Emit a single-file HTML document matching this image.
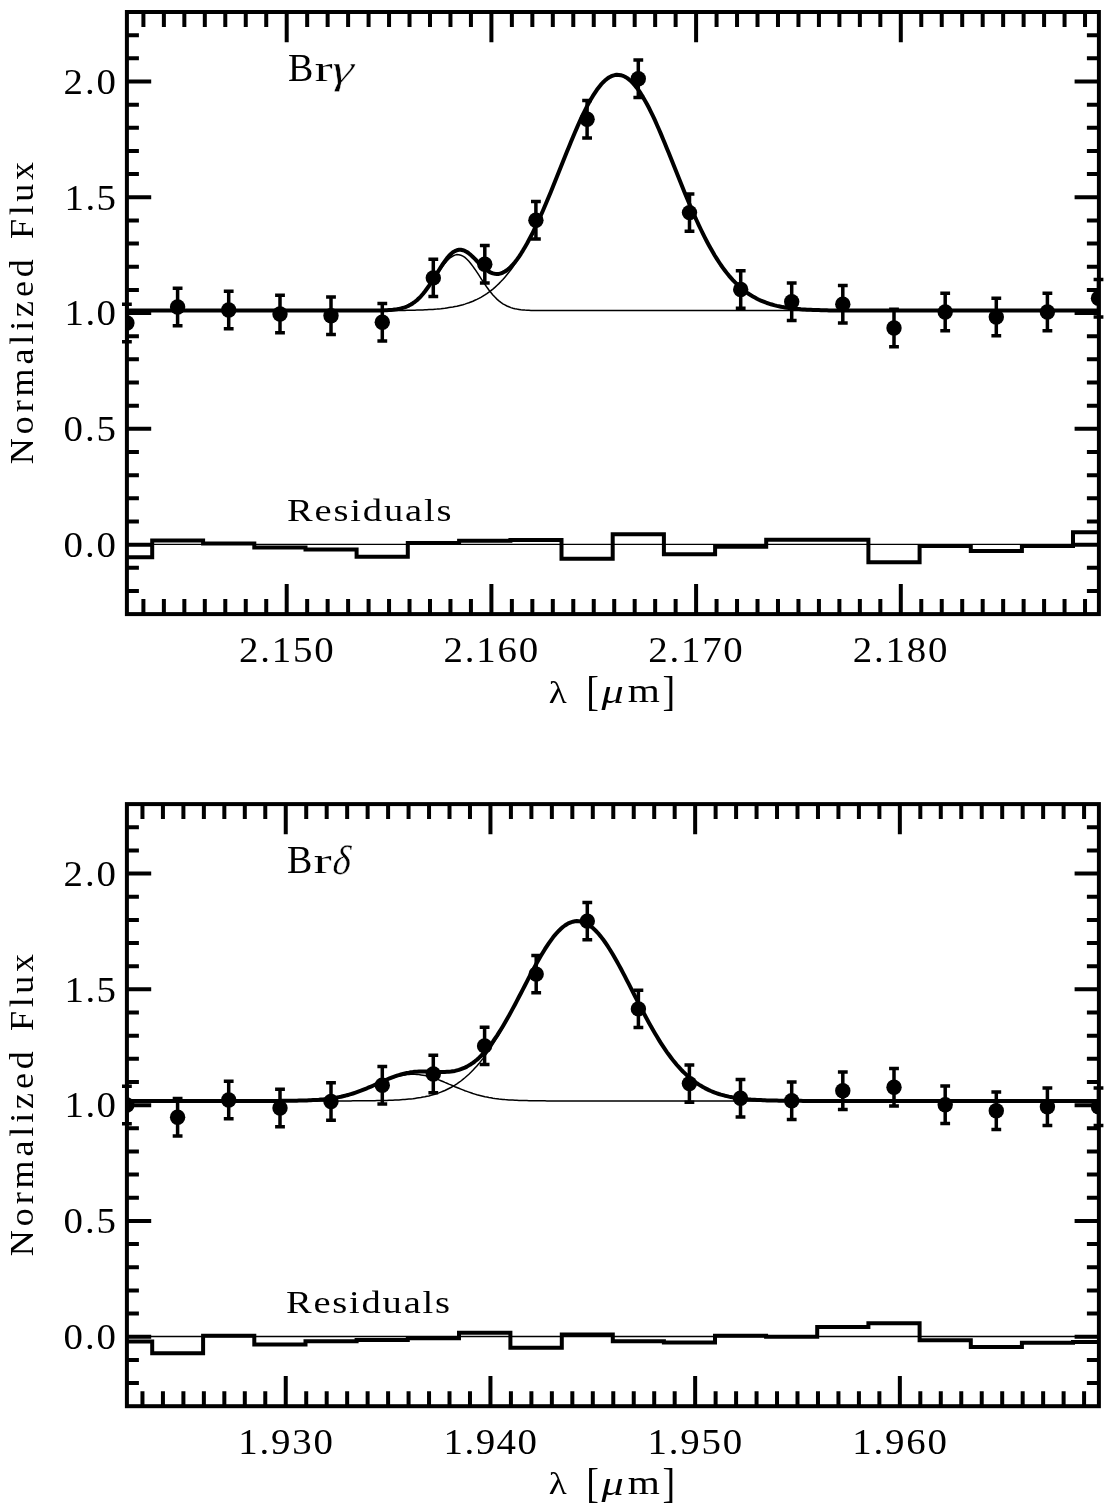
<!DOCTYPE html>
<html lang="en"><head><meta charset="utf-8"><title>Br gamma / Br delta line fits</title>
<style>html,body{margin:0;padding:0;background:#fff}svg{display:block}text{font-family:"Liberation Serif",serif;fill:#000}</style></head><body>
<svg width="1110" height="1511" viewBox="0 0 1110 1511">
<rect width="1110" height="1511" fill="#fff"/>
<defs><clipPath id="clip"><rect x="126.90" y="12.00" width="972.00" height="602.10"/></clipPath></defs>
<g transform="translate(0,0)">
<path d="M143.41,614.10 v-15.00 M143.41,12.00 v15.00 M163.88,614.10 v-15.00 M163.88,12.00 v15.00 M184.35,614.10 v-15.00 M184.35,12.00 v15.00 M204.82,614.10 v-15.00 M204.82,12.00 v15.00 M225.29,614.10 v-15.00 M225.29,12.00 v15.00 M245.76,614.10 v-15.00 M245.76,12.00 v15.00 M266.23,614.10 v-15.00 M266.23,12.00 v15.00 M286.70,614.10 v-30.20 M286.70,12.00 v30.20 M307.17,614.10 v-15.00 M307.17,12.00 v15.00 M327.64,614.10 v-15.00 M327.64,12.00 v15.00 M348.11,614.10 v-15.00 M348.11,12.00 v15.00 M368.58,614.10 v-15.00 M368.58,12.00 v15.00 M389.05,614.10 v-15.00 M389.05,12.00 v15.00 M409.52,614.10 v-15.00 M409.52,12.00 v15.00 M429.99,614.10 v-15.00 M429.99,12.00 v15.00 M450.46,614.10 v-15.00 M450.46,12.00 v15.00 M470.93,614.10 v-15.00 M470.93,12.00 v15.00 M491.40,614.10 v-30.20 M491.40,12.00 v30.20 M511.87,614.10 v-15.00 M511.87,12.00 v15.00 M532.34,614.10 v-15.00 M532.34,12.00 v15.00 M552.81,614.10 v-15.00 M552.81,12.00 v15.00 M573.28,614.10 v-15.00 M573.28,12.00 v15.00 M593.75,614.10 v-15.00 M593.75,12.00 v15.00 M614.22,614.10 v-15.00 M614.22,12.00 v15.00 M634.69,614.10 v-15.00 M634.69,12.00 v15.00 M655.16,614.10 v-15.00 M655.16,12.00 v15.00 M675.63,614.10 v-15.00 M675.63,12.00 v15.00 M696.10,614.10 v-30.20 M696.10,12.00 v30.20 M716.57,614.10 v-15.00 M716.57,12.00 v15.00 M737.04,614.10 v-15.00 M737.04,12.00 v15.00 M757.51,614.10 v-15.00 M757.51,12.00 v15.00 M777.98,614.10 v-15.00 M777.98,12.00 v15.00 M798.45,614.10 v-15.00 M798.45,12.00 v15.00 M818.92,614.10 v-15.00 M818.92,12.00 v15.00 M839.39,614.10 v-15.00 M839.39,12.00 v15.00 M859.86,614.10 v-15.00 M859.86,12.00 v15.00 M880.33,614.10 v-15.00 M880.33,12.00 v15.00 M900.80,614.10 v-30.20 M900.80,12.00 v30.20 M921.27,614.10 v-15.00 M921.27,12.00 v15.00 M941.74,614.10 v-15.00 M941.74,12.00 v15.00 M962.21,614.10 v-15.00 M962.21,12.00 v15.00 M982.68,614.10 v-15.00 M982.68,12.00 v15.00 M1003.15,614.10 v-15.00 M1003.15,12.00 v15.00 M1023.62,614.10 v-15.00 M1023.62,12.00 v15.00 M1044.09,614.10 v-15.00 M1044.09,12.00 v15.00 M1064.56,614.10 v-15.00 M1064.56,12.00 v15.00 M1085.03,614.10 v-15.00 M1085.03,12.00 v15.00 M126.90,590.94 h12.00 M1098.90,590.94 h-12.00 M126.90,567.78 h12.00 M1098.90,567.78 h-12.00 M126.90,544.63 h24.30 M1098.90,544.63 h-24.30 M126.90,521.47 h12.00 M1098.90,521.47 h-12.00 M126.90,498.31 h12.00 M1098.90,498.31 h-12.00 M126.90,475.15 h12.00 M1098.90,475.15 h-12.00 M126.90,452.00 h12.00 M1098.90,452.00 h-12.00 M126.90,428.84 h24.30 M1098.90,428.84 h-24.30 M126.90,405.68 h12.00 M1098.90,405.68 h-12.00 M126.90,382.52 h12.00 M1098.90,382.52 h-12.00 M126.90,359.37 h12.00 M1098.90,359.37 h-12.00 M126.90,336.21 h12.00 M1098.90,336.21 h-12.00 M126.90,313.05 h24.30 M1098.90,313.05 h-24.30 M126.90,289.89 h12.00 M1098.90,289.89 h-12.00 M126.90,266.73 h12.00 M1098.90,266.73 h-12.00 M126.90,243.58 h12.00 M1098.90,243.58 h-12.00 M126.90,220.42 h12.00 M1098.90,220.42 h-12.00 M126.90,197.26 h24.30 M1098.90,197.26 h-24.30 M126.90,174.10 h12.00 M1098.90,174.10 h-12.00 M126.90,150.95 h12.00 M1098.90,150.95 h-12.00 M126.90,127.79 h12.00 M1098.90,127.79 h-12.00 M126.90,104.63 h12.00 M1098.90,104.63 h-12.00 M126.90,81.47 h24.30 M1098.90,81.47 h-24.30 M126.90,58.32 h12.00 M1098.90,58.32 h-12.00 M126.90,35.16 h12.00 M1098.90,35.16 h-12.00" fill="none" stroke="#000" stroke-width="4"/>
<path d="M126.9,544.33 H1098.9" stroke="#000" stroke-width="1.4" fill="none"/>
<path d="M126.9,310.6 L128.9,310.6 L130.9,310.6 L132.9,310.6 L134.9,310.6 L136.9,310.6 L138.9,310.6 L140.9,310.6 L142.9,310.6 L144.9,310.6 L146.9,310.6 L148.9,310.6 L150.9,310.6 L152.9,310.6 L154.9,310.6 L156.9,310.6 L158.9,310.6 L160.9,310.6 L162.9,310.6 L164.9,310.6 L166.9,310.6 L168.9,310.6 L170.9,310.6 L172.9,310.6 L174.9,310.6 L176.9,310.6 L178.9,310.6 L180.9,310.6 L182.9,310.6 L184.9,310.6 L186.9,310.6 L188.9,310.6 L190.9,310.6 L192.9,310.6 L194.9,310.6 L196.9,310.6 L198.9,310.6 L200.9,310.6 L202.9,310.6 L204.9,310.6 L206.9,310.6 L208.9,310.6 L210.9,310.6 L212.9,310.6 L214.9,310.6 L216.9,310.6 L218.9,310.6 L220.9,310.6 L222.9,310.6 L224.9,310.6 L226.9,310.6 L228.9,310.6 L230.9,310.6 L232.9,310.6 L234.9,310.6 L236.9,310.6 L238.9,310.6 L240.9,310.6 L242.9,310.6 L244.9,310.6 L246.9,310.6 L248.9,310.6 L250.9,310.6 L252.9,310.6 L254.9,310.6 L256.9,310.6 L258.9,310.6 L260.9,310.6 L262.9,310.6 L264.9,310.6 L266.9,310.6 L268.9,310.6 L270.9,310.6 L272.9,310.6 L274.9,310.6 L276.9,310.6 L278.9,310.6 L280.9,310.6 L282.9,310.6 L284.9,310.6 L286.9,310.6 L288.9,310.6 L290.9,310.6 L292.9,310.6 L294.9,310.6 L296.9,310.6 L298.9,310.6 L300.9,310.6 L302.9,310.6 L304.9,310.6 L306.9,310.6 L308.9,310.6 L310.9,310.6 L312.9,310.6 L314.9,310.6 L316.9,310.6 L318.9,310.6 L320.9,310.6 L322.9,310.6 L324.9,310.6 L326.9,310.6 L328.9,310.6 L330.9,310.6 L332.9,310.6 L334.9,310.6 L336.9,310.6 L338.9,310.6 L340.9,310.6 L342.9,310.6 L344.9,310.6 L346.9,310.6 L348.9,310.6 L350.9,310.6 L352.9,310.6 L354.9,310.6 L356.9,310.6 L358.9,310.6 L360.9,310.6 L362.9,310.6 L364.9,310.6 L366.9,310.6 L368.9,310.6 L370.9,310.6 L372.9,310.6 L374.9,310.6 L376.9,310.6 L378.9,310.6 L380.9,310.6 L382.9,310.6 L384.9,310.5 L386.9,310.5 L388.9,310.5 L390.9,310.5 L392.9,310.5 L394.9,310.5 L396.9,310.5 L398.9,310.5 L400.9,310.4 L402.9,310.4 L404.9,310.4 L406.9,310.3 L408.9,310.3 L410.9,310.3 L412.9,310.2 L414.9,310.2 L416.9,310.1 L418.9,310.1 L420.9,310.0 L422.9,309.9 L424.9,309.8 L426.9,309.7 L428.9,309.6 L430.9,309.5 L432.9,309.4 L434.9,309.2 L436.9,309.1 L438.9,308.9 L440.9,308.7 L442.9,308.4 L444.9,308.2 L446.9,307.9 L448.9,307.6 L450.9,307.3 L452.9,307.0 L454.9,306.6 L456.9,306.2 L458.9,305.7 L460.9,305.2 L462.9,304.7 L464.9,304.1 L466.9,303.4 L468.9,302.8 L470.9,302.0 L472.9,301.2 L474.9,300.3 L476.9,299.4 L478.9,298.4 L480.9,297.3 L482.9,296.1 L484.9,294.9 L486.9,293.6 L488.9,292.2 L490.9,290.7 L492.9,289.1 L494.9,287.4 L496.9,285.5 L498.9,283.6 L500.9,281.6 L502.9,279.5 L504.9,277.2 L506.9,274.8 L508.9,272.3 L510.9,269.7 L512.9,267.0 L514.9,264.1 L516.9,261.1 L518.9,257.9 L520.9,254.7 L522.9,251.3 L524.9,247.8 L526.9,244.1 L528.9,240.3 L530.9,236.4 L532.9,232.4 L534.9,228.3 L536.9,224.0 L538.9,219.7 L540.9,215.2 L542.9,210.7 L544.9,206.1 L546.9,201.3 L548.9,196.5 L550.9,191.7 L552.9,186.8 L554.9,181.8 L556.9,176.9 L558.9,171.8 L560.9,166.8 L562.9,161.8 L564.9,156.8 L566.9,151.8 L568.9,146.9 L570.9,142.0 L572.9,137.2 L574.9,132.5 L576.9,127.9 L578.9,123.3 L580.9,118.9 L582.9,114.7 L584.9,110.6 L586.9,106.6 L588.9,102.9 L590.9,99.3 L592.9,95.9 L594.9,92.8 L596.9,89.8 L598.9,87.2 L600.9,84.7 L602.9,82.5 L604.9,80.6 L606.9,78.9 L608.9,77.5 L610.9,76.4 L612.9,75.6 L614.9,75.1 L616.9,74.8 L618.9,74.9 L620.9,75.2 L622.9,75.8 L624.9,76.7 L626.9,77.9 L628.9,79.4 L630.9,81.1 L632.9,83.1 L634.9,85.4 L636.9,87.9 L638.9,90.7 L640.9,93.7 L642.9,96.9 L644.9,100.4 L646.9,104.0 L648.9,107.8 L650.9,111.8 L652.9,115.9 L654.9,120.2 L656.9,124.7 L658.9,129.2 L660.9,133.9 L662.9,138.7 L664.9,143.5 L666.9,148.4 L668.9,153.3 L670.9,158.3 L672.9,163.3 L674.9,168.3 L676.9,173.3 L678.9,178.3 L680.9,183.3 L682.9,188.3 L684.9,193.2 L686.9,198.0 L688.9,202.8 L690.9,207.5 L692.9,212.1 L694.9,216.6 L696.9,221.0 L698.9,225.3 L700.9,229.5 L702.9,233.6 L704.9,237.6 L706.9,241.5 L708.9,245.2 L710.9,248.8 L712.9,252.3 L714.9,255.7 L716.9,258.9 L718.9,262.0 L720.9,265.0 L722.9,267.8 L724.9,270.5 L726.9,273.1 L728.9,275.6 L730.9,277.9 L732.9,280.1 L734.9,282.2 L736.9,284.2 L738.9,286.1 L740.9,287.9 L742.9,289.6 L744.9,291.1 L746.9,292.6 L748.9,294.0 L750.9,295.3 L752.9,296.5 L754.9,297.6 L756.9,298.7 L758.9,299.7 L760.9,300.6 L762.9,301.4 L764.9,302.2 L766.9,303.0 L768.9,303.6 L770.9,304.3 L772.9,304.8 L774.9,305.4 L776.9,305.9 L778.9,306.3 L780.9,306.7 L782.9,307.1 L784.9,307.4 L786.9,307.7 L788.9,308.0 L790.9,308.3 L792.9,308.5 L794.9,308.7 L796.9,308.9 L798.9,309.1 L800.9,309.3 L802.9,309.4 L804.9,309.5 L806.9,309.7 L808.9,309.8 L810.9,309.8 L812.9,309.9 L814.9,310.0 L816.9,310.1 L818.9,310.1 L820.9,310.2 L822.9,310.2 L824.9,310.3 L826.9,310.3 L828.9,310.4 L830.9,310.4 L832.9,310.4 L834.9,310.4 L836.9,310.5 L838.9,310.5 L840.9,310.5 L842.9,310.5 L844.9,310.5 L846.9,310.5 L848.9,310.5 L850.9,310.5 L852.9,310.6 L854.9,310.6 L856.9,310.6 L858.9,310.6 L860.9,310.6 L862.9,310.6 L864.9,310.6 L866.9,310.6 L868.9,310.6 L870.9,310.6 L872.9,310.6 L874.9,310.6 L876.9,310.6 L878.9,310.6 L880.9,310.6 L882.9,310.6 L884.9,310.6 L886.9,310.6 L888.9,310.6 L890.9,310.6 L892.9,310.6 L894.9,310.6 L896.9,310.6 L898.9,310.6 L900.9,310.6 L902.9,310.6 L904.9,310.6 L906.9,310.6 L908.9,310.6 L910.9,310.6 L912.9,310.6 L914.9,310.6 L916.9,310.6 L918.9,310.6 L920.9,310.6 L922.9,310.6 L924.9,310.6 L926.9,310.6 L928.9,310.6 L930.9,310.6 L932.9,310.6 L934.9,310.6 L936.9,310.6 L938.9,310.6 L940.9,310.6 L942.9,310.6 L944.9,310.6 L946.9,310.6 L948.9,310.6 L950.9,310.6 L952.9,310.6 L954.9,310.6 L956.9,310.6 L958.9,310.6 L960.9,310.6 L962.9,310.6 L964.9,310.6 L966.9,310.6 L968.9,310.6 L970.9,310.6 L972.9,310.6 L974.9,310.6 L976.9,310.6 L978.9,310.6 L980.9,310.6 L982.9,310.6 L984.9,310.6 L986.9,310.6 L988.9,310.6 L990.9,310.6 L992.9,310.6 L994.9,310.6 L996.9,310.6 L998.9,310.6 L1000.9,310.6 L1002.9,310.6 L1004.9,310.6 L1006.9,310.6 L1008.9,310.6 L1010.9,310.6 L1012.9,310.6 L1014.9,310.6 L1016.9,310.6 L1018.9,310.6 L1020.9,310.6 L1022.9,310.6 L1024.9,310.6 L1026.9,310.6 L1028.9,310.6 L1030.9,310.6 L1032.9,310.6 L1034.9,310.6 L1036.9,310.6 L1038.9,310.6 L1040.9,310.6 L1042.9,310.6 L1044.9,310.6 L1046.9,310.6 L1048.9,310.6 L1050.9,310.6 L1052.9,310.6 L1054.9,310.6 L1056.9,310.6 L1058.9,310.6 L1060.9,310.6 L1062.9,310.6 L1064.9,310.6 L1066.9,310.6 L1068.9,310.6 L1070.9,310.6 L1072.9,310.6 L1074.9,310.6 L1076.9,310.6 L1078.9,310.6 L1080.9,310.6 L1082.9,310.6 L1084.9,310.6 L1086.9,310.6 L1088.9,310.6 L1090.9,310.6 L1092.9,310.6 L1094.9,310.6 L1096.9,310.6 L1098.9,310.6" fill="none" stroke="#000" stroke-width="1.5"/>
<path d="M126.9,310.6 L128.9,310.6 L130.9,310.6 L132.9,310.6 L134.9,310.6 L136.9,310.6 L138.9,310.6 L140.9,310.6 L142.9,310.6 L144.9,310.6 L146.9,310.6 L148.9,310.6 L150.9,310.6 L152.9,310.6 L154.9,310.6 L156.9,310.6 L158.9,310.6 L160.9,310.6 L162.9,310.6 L164.9,310.6 L166.9,310.6 L168.9,310.6 L170.9,310.6 L172.9,310.6 L174.9,310.6 L176.9,310.6 L178.9,310.6 L180.9,310.6 L182.9,310.6 L184.9,310.6 L186.9,310.6 L188.9,310.6 L190.9,310.6 L192.9,310.6 L194.9,310.6 L196.9,310.6 L198.9,310.6 L200.9,310.6 L202.9,310.6 L204.9,310.6 L206.9,310.6 L208.9,310.6 L210.9,310.6 L212.9,310.6 L214.9,310.6 L216.9,310.6 L218.9,310.6 L220.9,310.6 L222.9,310.6 L224.9,310.6 L226.9,310.6 L228.9,310.6 L230.9,310.6 L232.9,310.6 L234.9,310.6 L236.9,310.6 L238.9,310.6 L240.9,310.6 L242.9,310.6 L244.9,310.6 L246.9,310.6 L248.9,310.6 L250.9,310.6 L252.9,310.6 L254.9,310.6 L256.9,310.6 L258.9,310.6 L260.9,310.6 L262.9,310.6 L264.9,310.6 L266.9,310.6 L268.9,310.6 L270.9,310.6 L272.9,310.6 L274.9,310.6 L276.9,310.6 L278.9,310.6 L280.9,310.6 L282.9,310.6 L284.9,310.6 L286.9,310.6 L288.9,310.6 L290.9,310.6 L292.9,310.6 L294.9,310.6 L296.9,310.6 L298.9,310.6 L300.9,310.6 L302.9,310.6 L304.9,310.6 L306.9,310.6 L308.9,310.6 L310.9,310.6 L312.9,310.6 L314.9,310.6 L316.9,310.6 L318.9,310.6 L320.9,310.6 L322.9,310.6 L324.9,310.6 L326.9,310.6 L328.9,310.6 L330.9,310.6 L332.9,310.6 L334.9,310.6 L336.9,310.6 L338.9,310.6 L340.9,310.6 L342.9,310.6 L344.9,310.6 L346.9,310.6 L348.9,310.6 L350.9,310.6 L352.9,310.6 L354.9,310.6 L356.9,310.6 L358.9,310.6 L360.9,310.6 L362.9,310.6 L364.9,310.6 L366.9,310.6 L368.9,310.6 L370.9,310.6 L372.9,310.6 L374.9,310.6 L376.9,310.5 L378.9,310.5 L380.9,310.5 L382.9,310.4 L384.9,310.4 L386.9,310.3 L388.9,310.2 L390.9,310.1 L392.9,309.9 L394.9,309.7 L396.9,309.4 L398.9,309.0 L400.9,308.6 L402.9,308.1 L404.9,307.5 L406.9,306.7 L408.9,305.9 L410.9,304.8 L412.9,303.6 L414.9,302.2 L416.9,300.7 L418.9,298.9 L420.9,296.9 L422.9,294.7 L424.9,292.3 L426.9,289.7 L428.9,287.0 L430.9,284.1 L432.9,281.1 L434.9,278.0 L436.9,274.9 L438.9,271.9 L440.9,268.9 L442.9,266.1 L444.9,263.4 L446.9,261.1 L448.9,259.0 L450.9,257.3 L452.9,256.0 L454.9,255.1 L456.9,254.6 L458.9,254.7 L460.9,255.2 L462.9,256.1 L464.9,257.4 L466.9,259.2 L468.9,261.3 L470.9,263.7 L472.9,266.4 L474.9,269.2 L476.9,272.2 L478.9,275.2 L480.9,278.3 L482.9,281.4 L484.9,284.4 L486.9,287.3 L488.9,290.0 L490.9,292.5 L492.9,294.9 L494.9,297.1 L496.9,299.1 L498.9,300.8 L500.9,302.4 L502.9,303.8 L504.9,304.9 L506.9,306.0 L508.9,306.8 L510.9,307.6 L512.9,308.2 L514.9,308.7 L516.9,309.1 L518.9,309.4 L520.9,309.7 L522.9,309.9 L524.9,310.1 L526.9,310.2 L528.9,310.3 L530.9,310.4 L532.9,310.4 L534.9,310.5 L536.9,310.5 L538.9,310.5 L540.9,310.6 L542.9,310.6 L544.9,310.6 L546.9,310.6 L548.9,310.6 L550.9,310.6 L552.9,310.6 L554.9,310.6 L556.9,310.6 L558.9,310.6 L560.9,310.6 L562.9,310.6 L564.9,310.6 L566.9,310.6 L568.9,310.6 L570.9,310.6 L572.9,310.6 L574.9,310.6 L576.9,310.6 L578.9,310.6 L580.9,310.6 L582.9,310.6 L584.9,310.6 L586.9,310.6 L588.9,310.6 L590.9,310.6 L592.9,310.6 L594.9,310.6 L596.9,310.6 L598.9,310.6 L600.9,310.6 L602.9,310.6 L604.9,310.6 L606.9,310.6 L608.9,310.6 L610.9,310.6 L612.9,310.6 L614.9,310.6 L616.9,310.6 L618.9,310.6 L620.9,310.6 L622.9,310.6 L624.9,310.6 L626.9,310.6 L628.9,310.6 L630.9,310.6 L632.9,310.6 L634.9,310.6 L636.9,310.6 L638.9,310.6 L640.9,310.6 L642.9,310.6 L644.9,310.6 L646.9,310.6 L648.9,310.6 L650.9,310.6 L652.9,310.6 L654.9,310.6 L656.9,310.6 L658.9,310.6 L660.9,310.6 L662.9,310.6 L664.9,310.6 L666.9,310.6 L668.9,310.6 L670.9,310.6 L672.9,310.6 L674.9,310.6 L676.9,310.6 L678.9,310.6 L680.9,310.6 L682.9,310.6 L684.9,310.6 L686.9,310.6 L688.9,310.6 L690.9,310.6 L692.9,310.6 L694.9,310.6 L696.9,310.6 L698.9,310.6 L700.9,310.6 L702.9,310.6 L704.9,310.6 L706.9,310.6 L708.9,310.6 L710.9,310.6 L712.9,310.6 L714.9,310.6 L716.9,310.6 L718.9,310.6 L720.9,310.6 L722.9,310.6 L724.9,310.6 L726.9,310.6 L728.9,310.6 L730.9,310.6 L732.9,310.6 L734.9,310.6 L736.9,310.6 L738.9,310.6 L740.9,310.6 L742.9,310.6 L744.9,310.6 L746.9,310.6 L748.9,310.6 L750.9,310.6 L752.9,310.6 L754.9,310.6 L756.9,310.6 L758.9,310.6 L760.9,310.6 L762.9,310.6 L764.9,310.6 L766.9,310.6 L768.9,310.6 L770.9,310.6 L772.9,310.6 L774.9,310.6 L776.9,310.6 L778.9,310.6 L780.9,310.6 L782.9,310.6 L784.9,310.6 L786.9,310.6 L788.9,310.6 L790.9,310.6 L792.9,310.6 L794.9,310.6 L796.9,310.6 L798.9,310.6 L800.9,310.6 L802.9,310.6 L804.9,310.6 L806.9,310.6 L808.9,310.6 L810.9,310.6 L812.9,310.6 L814.9,310.6 L816.9,310.6 L818.9,310.6 L820.9,310.6 L822.9,310.6 L824.9,310.6 L826.9,310.6 L828.9,310.6 L830.9,310.6 L832.9,310.6 L834.9,310.6 L836.9,310.6 L838.9,310.6 L840.9,310.6 L842.9,310.6 L844.9,310.6 L846.9,310.6 L848.9,310.6 L850.9,310.6 L852.9,310.6 L854.9,310.6 L856.9,310.6 L858.9,310.6 L860.9,310.6 L862.9,310.6 L864.9,310.6 L866.9,310.6 L868.9,310.6 L870.9,310.6 L872.9,310.6 L874.9,310.6 L876.9,310.6 L878.9,310.6 L880.9,310.6 L882.9,310.6 L884.9,310.6 L886.9,310.6 L888.9,310.6 L890.9,310.6 L892.9,310.6 L894.9,310.6 L896.9,310.6 L898.9,310.6 L900.9,310.6 L902.9,310.6 L904.9,310.6 L906.9,310.6 L908.9,310.6 L910.9,310.6 L912.9,310.6 L914.9,310.6 L916.9,310.6 L918.9,310.6 L920.9,310.6 L922.9,310.6 L924.9,310.6 L926.9,310.6 L928.9,310.6 L930.9,310.6 L932.9,310.6 L934.9,310.6 L936.9,310.6 L938.9,310.6 L940.9,310.6 L942.9,310.6 L944.9,310.6 L946.9,310.6 L948.9,310.6 L950.9,310.6 L952.9,310.6 L954.9,310.6 L956.9,310.6 L958.9,310.6 L960.9,310.6 L962.9,310.6 L964.9,310.6 L966.9,310.6 L968.9,310.6 L970.9,310.6 L972.9,310.6 L974.9,310.6 L976.9,310.6 L978.9,310.6 L980.9,310.6 L982.9,310.6 L984.9,310.6 L986.9,310.6 L988.9,310.6 L990.9,310.6 L992.9,310.6 L994.9,310.6 L996.9,310.6 L998.9,310.6 L1000.9,310.6 L1002.9,310.6 L1004.9,310.6 L1006.9,310.6 L1008.9,310.6 L1010.9,310.6 L1012.9,310.6 L1014.9,310.6 L1016.9,310.6 L1018.9,310.6 L1020.9,310.6 L1022.9,310.6 L1024.9,310.6 L1026.9,310.6 L1028.9,310.6 L1030.9,310.6 L1032.9,310.6 L1034.9,310.6 L1036.9,310.6 L1038.9,310.6 L1040.9,310.6 L1042.9,310.6 L1044.9,310.6 L1046.9,310.6 L1048.9,310.6 L1050.9,310.6 L1052.9,310.6 L1054.9,310.6 L1056.9,310.6 L1058.9,310.6 L1060.9,310.6 L1062.9,310.6 L1064.9,310.6 L1066.9,310.6 L1068.9,310.6 L1070.9,310.6 L1072.9,310.6 L1074.9,310.6 L1076.9,310.6 L1078.9,310.6 L1080.9,310.6 L1082.9,310.6 L1084.9,310.6 L1086.9,310.6 L1088.9,310.6 L1090.9,310.6 L1092.9,310.6 L1094.9,310.6 L1096.9,310.6 L1098.9,310.6" fill="none" stroke="#000" stroke-width="1.5"/>
<path d="M126.9,310.6 L128.9,310.6 L130.9,310.6 L132.9,310.6 L134.9,310.6 L136.9,310.6 L138.9,310.6 L140.9,310.6 L142.9,310.6 L144.9,310.6 L146.9,310.6 L148.9,310.6 L150.9,310.6 L152.9,310.6 L154.9,310.6 L156.9,310.6 L158.9,310.6 L160.9,310.6 L162.9,310.6 L164.9,310.6 L166.9,310.6 L168.9,310.6 L170.9,310.6 L172.9,310.6 L174.9,310.6 L176.9,310.6 L178.9,310.6 L180.9,310.6 L182.9,310.6 L184.9,310.6 L186.9,310.6 L188.9,310.6 L190.9,310.6 L192.9,310.6 L194.9,310.6 L196.9,310.6 L198.9,310.6 L200.9,310.6 L202.9,310.6 L204.9,310.6 L206.9,310.6 L208.9,310.6 L210.9,310.6 L212.9,310.6 L214.9,310.6 L216.9,310.6 L218.9,310.6 L220.9,310.6 L222.9,310.6 L224.9,310.6 L226.9,310.6 L228.9,310.6 L230.9,310.6 L232.9,310.6 L234.9,310.6 L236.9,310.6 L238.9,310.6 L240.9,310.6 L242.9,310.6 L244.9,310.6 L246.9,310.6 L248.9,310.6 L250.9,310.6 L252.9,310.6 L254.9,310.6 L256.9,310.6 L258.9,310.6 L260.9,310.6 L262.9,310.6 L264.9,310.6 L266.9,310.6 L268.9,310.6 L270.9,310.6 L272.9,310.6 L274.9,310.6 L276.9,310.6 L278.9,310.6 L280.9,310.6 L282.9,310.6 L284.9,310.6 L286.9,310.6 L288.9,310.6 L290.9,310.6 L292.9,310.6 L294.9,310.6 L296.9,310.6 L298.9,310.6 L300.9,310.6 L302.9,310.6 L304.9,310.6 L306.9,310.6 L308.9,310.6 L310.9,310.6 L312.9,310.6 L314.9,310.6 L316.9,310.6 L318.9,310.6 L320.9,310.6 L322.9,310.6 L324.9,310.6 L326.9,310.6 L328.9,310.6 L330.9,310.6 L332.9,310.6 L334.9,310.6 L336.9,310.6 L338.9,310.6 L340.9,310.6 L342.9,310.6 L344.9,310.6 L346.9,310.6 L348.9,310.6 L350.9,310.6 L352.9,310.6 L354.9,310.6 L356.9,310.6 L358.9,310.6 L360.9,310.6 L362.9,310.6 L364.9,310.6 L366.9,310.6 L368.9,310.6 L370.9,310.6 L372.9,310.5 L374.9,310.5 L376.9,310.5 L378.9,310.5 L380.9,310.4 L382.9,310.4 L384.9,310.3 L386.9,310.2 L388.9,310.1 L390.9,310.0 L392.9,309.8 L394.9,309.5 L396.9,309.3 L398.9,308.9 L400.9,308.5 L402.9,307.9 L404.9,307.3 L406.9,306.5 L408.9,305.6 L410.9,304.5 L412.9,303.2 L414.9,301.8 L416.9,300.2 L418.9,298.3 L420.9,296.3 L422.9,294.0 L424.9,291.5 L426.9,288.8 L428.9,286.0 L430.9,283.0 L432.9,279.8 L434.9,276.6 L436.9,273.4 L438.9,270.2 L440.9,267.0 L442.9,263.9 L444.9,261.1 L446.9,258.4 L448.9,256.0 L450.9,254.0 L452.9,252.3 L454.9,251.1 L456.9,250.2 L458.9,249.8 L460.9,249.8 L462.9,250.2 L464.9,250.9 L466.9,252.0 L468.9,253.4 L470.9,255.1 L472.9,257.0 L474.9,258.9 L476.9,261.0 L478.9,263.0 L480.9,265.0 L482.9,266.9 L484.9,268.7 L486.9,270.2 L488.9,271.6 L490.9,272.6 L492.9,273.4 L494.9,273.8 L496.9,274.0 L498.9,273.9 L500.9,273.4 L502.9,272.6 L504.9,271.5 L506.9,270.2 L508.9,268.6 L510.9,266.7 L512.9,264.5 L514.9,262.2 L516.9,259.6 L518.9,256.8 L520.9,253.8 L522.9,250.6 L524.9,247.2 L526.9,243.7 L528.9,240.0 L530.9,236.2 L532.9,232.3 L534.9,228.2 L536.9,224.0 L538.9,219.6 L540.9,215.2 L542.9,210.7 L544.9,206.0 L546.9,201.3 L548.9,196.5 L550.9,191.7 L552.9,186.8 L554.9,181.8 L556.9,176.8 L558.9,171.8 L560.9,166.8 L562.9,161.8 L564.9,156.8 L566.9,151.8 L568.9,146.9 L570.9,142.0 L572.9,137.2 L574.9,132.5 L576.9,127.9 L578.9,123.3 L580.9,118.9 L582.9,114.7 L584.9,110.6 L586.9,106.6 L588.9,102.9 L590.9,99.3 L592.9,95.9 L594.9,92.8 L596.9,89.8 L598.9,87.2 L600.9,84.7 L602.9,82.5 L604.9,80.6 L606.9,78.9 L608.9,77.5 L610.9,76.4 L612.9,75.6 L614.9,75.1 L616.9,74.8 L618.9,74.9 L620.9,75.2 L622.9,75.8 L624.9,76.7 L626.9,77.9 L628.9,79.4 L630.9,81.1 L632.9,83.1 L634.9,85.4 L636.9,87.9 L638.9,90.7 L640.9,93.7 L642.9,96.9 L644.9,100.4 L646.9,104.0 L648.9,107.8 L650.9,111.8 L652.9,115.9 L654.9,120.2 L656.9,124.7 L658.9,129.2 L660.9,133.9 L662.9,138.7 L664.9,143.5 L666.9,148.4 L668.9,153.3 L670.9,158.3 L672.9,163.3 L674.9,168.3 L676.9,173.3 L678.9,178.3 L680.9,183.3 L682.9,188.3 L684.9,193.2 L686.9,198.0 L688.9,202.8 L690.9,207.5 L692.9,212.1 L694.9,216.6 L696.9,221.0 L698.9,225.3 L700.9,229.5 L702.9,233.6 L704.9,237.6 L706.9,241.5 L708.9,245.2 L710.9,248.8 L712.9,252.3 L714.9,255.7 L716.9,258.9 L718.9,262.0 L720.9,265.0 L722.9,267.8 L724.9,270.5 L726.9,273.1 L728.9,275.6 L730.9,277.9 L732.9,280.1 L734.9,282.2 L736.9,284.2 L738.9,286.1 L740.9,287.9 L742.9,289.6 L744.9,291.1 L746.9,292.6 L748.9,294.0 L750.9,295.3 L752.9,296.5 L754.9,297.6 L756.9,298.7 L758.9,299.7 L760.9,300.6 L762.9,301.4 L764.9,302.2 L766.9,303.0 L768.9,303.6 L770.9,304.3 L772.9,304.8 L774.9,305.4 L776.9,305.9 L778.9,306.3 L780.9,306.7 L782.9,307.1 L784.9,307.4 L786.9,307.7 L788.9,308.0 L790.9,308.3 L792.9,308.5 L794.9,308.7 L796.9,308.9 L798.9,309.1 L800.9,309.3 L802.9,309.4 L804.9,309.5 L806.9,309.7 L808.9,309.8 L810.9,309.8 L812.9,309.9 L814.9,310.0 L816.9,310.1 L818.9,310.1 L820.9,310.2 L822.9,310.2 L824.9,310.3 L826.9,310.3 L828.9,310.4 L830.9,310.4 L832.9,310.4 L834.9,310.4 L836.9,310.5 L838.9,310.5 L840.9,310.5 L842.9,310.5 L844.9,310.5 L846.9,310.5 L848.9,310.5 L850.9,310.5 L852.9,310.6 L854.9,310.6 L856.9,310.6 L858.9,310.6 L860.9,310.6 L862.9,310.6 L864.9,310.6 L866.9,310.6 L868.9,310.6 L870.9,310.6 L872.9,310.6 L874.9,310.6 L876.9,310.6 L878.9,310.6 L880.9,310.6 L882.9,310.6 L884.9,310.6 L886.9,310.6 L888.9,310.6 L890.9,310.6 L892.9,310.6 L894.9,310.6 L896.9,310.6 L898.9,310.6 L900.9,310.6 L902.9,310.6 L904.9,310.6 L906.9,310.6 L908.9,310.6 L910.9,310.6 L912.9,310.6 L914.9,310.6 L916.9,310.6 L918.9,310.6 L920.9,310.6 L922.9,310.6 L924.9,310.6 L926.9,310.6 L928.9,310.6 L930.9,310.6 L932.9,310.6 L934.9,310.6 L936.9,310.6 L938.9,310.6 L940.9,310.6 L942.9,310.6 L944.9,310.6 L946.9,310.6 L948.9,310.6 L950.9,310.6 L952.9,310.6 L954.9,310.6 L956.9,310.6 L958.9,310.6 L960.9,310.6 L962.9,310.6 L964.9,310.6 L966.9,310.6 L968.9,310.6 L970.9,310.6 L972.9,310.6 L974.9,310.6 L976.9,310.6 L978.9,310.6 L980.9,310.6 L982.9,310.6 L984.9,310.6 L986.9,310.6 L988.9,310.6 L990.9,310.6 L992.9,310.6 L994.9,310.6 L996.9,310.6 L998.9,310.6 L1000.9,310.6 L1002.9,310.6 L1004.9,310.6 L1006.9,310.6 L1008.9,310.6 L1010.9,310.6 L1012.9,310.6 L1014.9,310.6 L1016.9,310.6 L1018.9,310.6 L1020.9,310.6 L1022.9,310.6 L1024.9,310.6 L1026.9,310.6 L1028.9,310.6 L1030.9,310.6 L1032.9,310.6 L1034.9,310.6 L1036.9,310.6 L1038.9,310.6 L1040.9,310.6 L1042.9,310.6 L1044.9,310.6 L1046.9,310.6 L1048.9,310.6 L1050.9,310.6 L1052.9,310.6 L1054.9,310.6 L1056.9,310.6 L1058.9,310.6 L1060.9,310.6 L1062.9,310.6 L1064.9,310.6 L1066.9,310.6 L1068.9,310.6 L1070.9,310.6 L1072.9,310.6 L1074.9,310.6 L1076.9,310.6 L1078.9,310.6 L1080.9,310.6 L1082.9,310.6 L1084.9,310.6 L1086.9,310.6 L1088.9,310.6 L1090.9,310.6 L1092.9,310.6 L1094.9,310.6 L1096.9,310.6 L1098.9,310.6" fill="none" stroke="#000" stroke-width="4" stroke-linejoin="round"/>
<path d="M126.9,557.2 H152.2 V540.5 H203.1 V543.5 H254.3 V547.5 H305.5 V549.5 H356.6 V556.7 H407.8 V543.0 H459.1 V540.8 H510.4 V540.0 H561.5 V558.7 H612.7 V534.2 H663.9 V554.2 H715.1 V546.7 H766.2 V539.7 H817.2 V539.7 H868.4 V562.3 H919.6 V546.0 H970.8 V551.0 H1021.9 V546.0 H1073.0 V532.2 H1098.9" fill="none" stroke="#000" stroke-width="4" stroke-linejoin="miter"/>
<path d="M126.9,304.3 V341.7 M122.0,304.3 h9.8 M122.0,341.7 h9.8 M177.6,288.3 V325.7 M172.7,288.3 h9.8 M172.7,325.7 h9.8 M228.7,291.3 V328.7 M223.8,291.3 h9.8 M223.8,328.7 h9.8 M280.0,295.3 V332.7 M275.1,295.3 h9.8 M275.1,332.7 h9.8 M331.0,297.0 V334.4 M326.1,297.0 h9.8 M326.1,334.4 h9.8 M382.3,303.6 V341.0 M377.4,303.6 h9.8 M377.4,341.0 h9.8 M433.3,259.2 V296.6 M428.4,259.2 h9.8 M428.4,296.6 h9.8 M484.8,245.6 V283.0 M479.9,245.6 h9.8 M479.9,283.0 h9.8 M535.9,201.5 V238.9 M531.0,201.5 h9.8 M531.0,238.9 h9.8 M587.1,100.5 V137.9 M582.2,100.5 h9.8 M582.2,137.9 h9.8 M638.3,60.1 V97.5 M633.4,60.1 h9.8 M633.4,97.5 h9.8 M689.5,193.9 V231.3 M684.6,193.9 h9.8 M684.6,231.3 h9.8 M740.7,270.8 V308.2 M735.8,270.8 h9.8 M735.8,308.2 h9.8 M791.7,283.0 V320.4 M786.8,283.0 h9.8 M786.8,320.4 h9.8 M842.8,285.6 V323.0 M837.9,285.6 h9.8 M837.9,323.0 h9.8 M894.0,309.3 V346.7 M889.1,309.3 h9.8 M889.1,346.7 h9.8 M945.2,293.3 V330.7 M940.3,293.3 h9.8 M940.3,330.7 h9.8 M996.3,298.3 V335.7 M991.4,298.3 h9.8 M991.4,335.7 h9.8 M1047.4,293.3 V330.7 M1042.5,293.3 h9.8 M1042.5,330.7 h9.8 M1098.5,279.6 V317.0 M1093.6,279.6 h9.8 M1093.6,317.0 h9.8" fill="none" stroke="#000" stroke-width="3.5"/>
<g clip-path="url(#clip)">
<circle cx="126.9" cy="323.0" r="7.7"/>
<circle cx="177.6" cy="307.0" r="7.7"/>
<circle cx="228.7" cy="310.0" r="7.7"/>
<circle cx="280.0" cy="314.0" r="7.7"/>
<circle cx="331.0" cy="315.7" r="7.7"/>
<circle cx="382.3" cy="322.3" r="7.7"/>
<circle cx="433.3" cy="277.9" r="7.7"/>
<circle cx="484.8" cy="264.3" r="7.7"/>
<circle cx="535.9" cy="220.2" r="7.7"/>
<circle cx="587.1" cy="119.2" r="7.7"/>
<circle cx="638.3" cy="78.8" r="7.7"/>
<circle cx="689.5" cy="212.6" r="7.7"/>
<circle cx="740.7" cy="289.5" r="7.7"/>
<circle cx="791.7" cy="301.7" r="7.7"/>
<circle cx="842.8" cy="304.3" r="7.7"/>
<circle cx="894.0" cy="328.0" r="7.7"/>
<circle cx="945.2" cy="312.0" r="7.7"/>
<circle cx="996.3" cy="317.0" r="7.7"/>
<circle cx="1047.4" cy="312.0" r="7.7"/>
<circle cx="1098.5" cy="298.3" r="7.7"/>
</g>
<rect x="126.90" y="12.00" width="972.00" height="602.10" fill="none" stroke="#000" stroke-width="4"/>
<text><tspan x="288.00" y="81.00" font-size="40.80" textLength="25.35" lengthAdjust="spacingAndGlyphs">B</tspan><tspan x="314.40" y="81.00" font-size="36.00" textLength="18.14" lengthAdjust="spacingAndGlyphs" stroke="#fff" stroke-width="0.2">r</tspan></text>
<text><tspan x="548.80" y="702.50" font-size="32.46" textLength="17.98" lengthAdjust="spacingAndGlyphs">λ</tspan> <tspan x="586.30" y="705.20" font-size="42.00" textLength="12.64" lengthAdjust="spacingAndGlyphs">[</tspan><tspan x="601.50" y="702.80" font-size="34.48" textLength="22.25" lengthAdjust="spacingAndGlyphs" font-style="italic">μ</tspan><tspan x="627.80" y="702.30" font-size="34.37" textLength="32.15" lengthAdjust="spacingAndGlyphs">m</tspan><tspan x="662.50" y="705.20" font-size="42.00" textLength="12.64" lengthAdjust="spacingAndGlyphs">]</tspan></text>
<text transform="translate(63.50,94.00) scale(1.0800,1.0000)" font-size="36" letter-spacing="1.80">2.0</text>
<text transform="translate(64.50,210.00) scale(1.0800,1.0000)" font-size="36" letter-spacing="1.34">1.5</text>
<text transform="translate(64.50,325.00) scale(1.0800,1.0000)" font-size="36" letter-spacing="1.34">1.0</text>
<text transform="translate(63.50,440.80) scale(1.0800,1.0000)" font-size="36" letter-spacing="1.80">0.5</text>
<text transform="translate(63.50,557.00) scale(1.0800,1.0000)" font-size="36" letter-spacing="1.80">0.0</text>
<text transform="translate(286.90,521.30) scale(1.0700,0.8881)" font-size="36" letter-spacing="1.75">Residuals</text>
<text transform="translate(33.40,464.15) rotate(-90) scale(1.0000,0.9550)" font-size="36" letter-spacing="3.90">Normalized <tspan x="225.15" letter-spacing="3.67">Flux</tspan></text>
<text transform="translate(238.90,661.80) scale(1.0800,1.0040)" font-size="36" letter-spacing="1.68">2.150</text>
<text transform="translate(443.55,661.80) scale(1.0800,1.0040)" font-size="36" letter-spacing="1.64">2.160</text>
<text transform="translate(648.20,661.80) scale(1.0800,1.0040)" font-size="36" letter-spacing="1.66">2.170</text>
<text transform="translate(852.85,661.80) scale(1.0800,1.0040)" font-size="36" letter-spacing="1.68">2.180</text>
<text transform="translate(328.00,82.75) scale(1.4318,1.1466) skewX(-14)" font-size="36" stroke="#fff" stroke-width="0.35">γ</text>
</g>
<g transform="translate(0,792.1)">
<path d="M142.46,614.10 v-15.00 M142.46,12.00 v15.00 M162.93,614.10 v-15.00 M162.93,12.00 v15.00 M183.40,614.10 v-15.00 M183.40,12.00 v15.00 M203.87,614.10 v-15.00 M203.87,12.00 v15.00 M224.34,614.10 v-15.00 M224.34,12.00 v15.00 M244.81,614.10 v-15.00 M244.81,12.00 v15.00 M265.28,614.10 v-15.00 M265.28,12.00 v15.00 M285.75,614.10 v-30.20 M285.75,12.00 v30.20 M306.22,614.10 v-15.00 M306.22,12.00 v15.00 M326.69,614.10 v-15.00 M326.69,12.00 v15.00 M347.16,614.10 v-15.00 M347.16,12.00 v15.00 M367.63,614.10 v-15.00 M367.63,12.00 v15.00 M388.10,614.10 v-15.00 M388.10,12.00 v15.00 M408.57,614.10 v-15.00 M408.57,12.00 v15.00 M429.04,614.10 v-15.00 M429.04,12.00 v15.00 M449.51,614.10 v-15.00 M449.51,12.00 v15.00 M469.98,614.10 v-15.00 M469.98,12.00 v15.00 M490.45,614.10 v-30.20 M490.45,12.00 v30.20 M510.92,614.10 v-15.00 M510.92,12.00 v15.00 M531.39,614.10 v-15.00 M531.39,12.00 v15.00 M551.86,614.10 v-15.00 M551.86,12.00 v15.00 M572.33,614.10 v-15.00 M572.33,12.00 v15.00 M592.80,614.10 v-15.00 M592.80,12.00 v15.00 M613.27,614.10 v-15.00 M613.27,12.00 v15.00 M633.74,614.10 v-15.00 M633.74,12.00 v15.00 M654.21,614.10 v-15.00 M654.21,12.00 v15.00 M674.68,614.10 v-15.00 M674.68,12.00 v15.00 M695.15,614.10 v-30.20 M695.15,12.00 v30.20 M715.62,614.10 v-15.00 M715.62,12.00 v15.00 M736.09,614.10 v-15.00 M736.09,12.00 v15.00 M756.56,614.10 v-15.00 M756.56,12.00 v15.00 M777.03,614.10 v-15.00 M777.03,12.00 v15.00 M797.50,614.10 v-15.00 M797.50,12.00 v15.00 M817.97,614.10 v-15.00 M817.97,12.00 v15.00 M838.44,614.10 v-15.00 M838.44,12.00 v15.00 M858.91,614.10 v-15.00 M858.91,12.00 v15.00 M879.38,614.10 v-15.00 M879.38,12.00 v15.00 M899.85,614.10 v-30.20 M899.85,12.00 v30.20 M920.32,614.10 v-15.00 M920.32,12.00 v15.00 M940.79,614.10 v-15.00 M940.79,12.00 v15.00 M961.26,614.10 v-15.00 M961.26,12.00 v15.00 M981.73,614.10 v-15.00 M981.73,12.00 v15.00 M1002.20,614.10 v-15.00 M1002.20,12.00 v15.00 M1022.67,614.10 v-15.00 M1022.67,12.00 v15.00 M1043.14,614.10 v-15.00 M1043.14,12.00 v15.00 M1063.61,614.10 v-15.00 M1063.61,12.00 v15.00 M1084.08,614.10 v-15.00 M1084.08,12.00 v15.00 M126.90,590.94 h12.00 M1098.90,590.94 h-12.00 M126.90,567.78 h12.00 M1098.90,567.78 h-12.00 M126.90,544.63 h24.30 M1098.90,544.63 h-24.30 M126.90,521.47 h12.00 M1098.90,521.47 h-12.00 M126.90,498.31 h12.00 M1098.90,498.31 h-12.00 M126.90,475.15 h12.00 M1098.90,475.15 h-12.00 M126.90,452.00 h12.00 M1098.90,452.00 h-12.00 M126.90,428.84 h24.30 M1098.90,428.84 h-24.30 M126.90,405.68 h12.00 M1098.90,405.68 h-12.00 M126.90,382.52 h12.00 M1098.90,382.52 h-12.00 M126.90,359.37 h12.00 M1098.90,359.37 h-12.00 M126.90,336.21 h12.00 M1098.90,336.21 h-12.00 M126.90,313.05 h24.30 M1098.90,313.05 h-24.30 M126.90,289.89 h12.00 M1098.90,289.89 h-12.00 M126.90,266.73 h12.00 M1098.90,266.73 h-12.00 M126.90,243.58 h12.00 M1098.90,243.58 h-12.00 M126.90,220.42 h12.00 M1098.90,220.42 h-12.00 M126.90,197.26 h24.30 M1098.90,197.26 h-24.30 M126.90,174.10 h12.00 M1098.90,174.10 h-12.00 M126.90,150.95 h12.00 M1098.90,150.95 h-12.00 M126.90,127.79 h12.00 M1098.90,127.79 h-12.00 M126.90,104.63 h12.00 M1098.90,104.63 h-12.00 M126.90,81.47 h24.30 M1098.90,81.47 h-24.30 M126.90,58.32 h12.00 M1098.90,58.32 h-12.00 M126.90,35.16 h12.00 M1098.90,35.16 h-12.00" fill="none" stroke="#000" stroke-width="4"/>
<path d="M126.9,544.33 H1098.9" stroke="#000" stroke-width="1.4" fill="none"/>
<path d="M126.9,308.8 L128.9,308.8 L130.9,308.8 L132.9,308.8 L134.9,308.8 L136.9,308.8 L138.9,308.8 L140.9,308.8 L142.9,308.8 L144.9,308.8 L146.9,308.8 L148.9,308.8 L150.9,308.8 L152.9,308.8 L154.9,308.8 L156.9,308.8 L158.9,308.8 L160.9,308.8 L162.9,308.8 L164.9,308.8 L166.9,308.8 L168.9,308.8 L170.9,308.8 L172.9,308.8 L174.9,308.8 L176.9,308.8 L178.9,308.8 L180.9,308.8 L182.9,308.8 L184.9,308.8 L186.9,308.8 L188.9,308.8 L190.9,308.8 L192.9,308.8 L194.9,308.8 L196.9,308.8 L198.9,308.8 L200.9,308.8 L202.9,308.8 L204.9,308.8 L206.9,308.8 L208.9,308.8 L210.9,308.8 L212.9,308.8 L214.9,308.8 L216.9,308.8 L218.9,308.8 L220.9,308.8 L222.9,308.8 L224.9,308.8 L226.9,308.8 L228.9,308.8 L230.9,308.8 L232.9,308.8 L234.9,308.8 L236.9,308.8 L238.9,308.8 L240.9,308.8 L242.9,308.8 L244.9,308.8 L246.9,308.8 L248.9,308.8 L250.9,308.8 L252.9,308.8 L254.9,308.8 L256.9,308.8 L258.9,308.8 L260.9,308.8 L262.9,308.8 L264.9,308.8 L266.9,308.8 L268.9,308.8 L270.9,308.8 L272.9,308.8 L274.9,308.8 L276.9,308.8 L278.9,308.8 L280.9,308.8 L282.9,308.8 L284.9,308.8 L286.9,308.8 L288.9,308.8 L290.9,308.8 L292.9,308.8 L294.9,308.8 L296.9,308.8 L298.9,308.8 L300.9,308.8 L302.9,308.8 L304.9,308.8 L306.9,308.8 L308.9,308.8 L310.9,308.8 L312.9,308.8 L314.9,308.8 L316.9,308.8 L318.9,308.8 L320.9,308.8 L322.9,308.8 L324.9,308.8 L326.9,308.8 L328.9,308.8 L330.9,308.8 L332.9,308.8 L334.9,308.8 L336.9,308.8 L338.9,308.8 L340.9,308.8 L342.9,308.8 L344.9,308.8 L346.9,308.8 L348.9,308.8 L350.9,308.8 L352.9,308.7 L354.9,308.7 L356.9,308.7 L358.9,308.7 L360.9,308.7 L362.9,308.7 L364.9,308.7 L366.9,308.7 L368.9,308.6 L370.9,308.6 L372.9,308.6 L374.9,308.6 L376.9,308.5 L378.9,308.5 L380.9,308.5 L382.9,308.4 L384.9,308.4 L386.9,308.3 L388.9,308.2 L390.9,308.2 L392.9,308.1 L394.9,308.0 L396.9,307.9 L398.9,307.8 L400.9,307.6 L402.9,307.5 L404.9,307.4 L406.9,307.2 L408.9,307.0 L410.9,306.8 L412.9,306.6 L414.9,306.3 L416.9,306.0 L418.9,305.7 L420.9,305.4 L422.9,305.0 L424.9,304.7 L426.9,304.2 L428.9,303.8 L430.9,303.3 L432.9,302.7 L434.9,302.1 L436.9,301.5 L438.9,300.8 L440.9,300.0 L442.9,299.2 L444.9,298.4 L446.9,297.4 L448.9,296.4 L450.9,295.4 L452.9,294.2 L454.9,293.0 L456.9,291.7 L458.9,290.3 L460.9,288.9 L462.9,287.3 L464.9,285.7 L466.9,283.9 L468.9,282.1 L470.9,280.2 L472.9,278.2 L474.9,276.0 L476.9,273.8 L478.9,271.5 L480.9,269.0 L482.9,266.5 L484.9,263.8 L486.9,261.1 L488.9,258.2 L490.9,255.3 L492.9,252.2 L494.9,249.1 L496.9,245.8 L498.9,242.5 L500.9,239.1 L502.9,235.6 L504.9,232.0 L506.9,228.4 L508.9,224.7 L510.9,220.9 L512.9,217.1 L514.9,213.2 L516.9,209.3 L518.9,205.4 L520.9,201.5 L522.9,197.6 L524.9,193.7 L526.9,189.8 L528.9,185.9 L530.9,182.0 L532.9,178.2 L534.9,174.5 L536.9,170.8 L538.9,167.3 L540.9,163.8 L542.9,160.4 L544.9,157.2 L546.9,154.0 L548.9,151.1 L550.9,148.2 L552.9,145.6 L554.9,143.1 L556.9,140.7 L558.9,138.6 L560.9,136.7 L562.9,135.0 L564.9,133.4 L566.9,132.1 L568.9,131.0 L570.9,130.2 L572.9,129.6 L574.9,129.2 L576.9,129.0 L578.9,129.1 L580.9,129.4 L582.9,129.9 L584.9,130.7 L586.9,131.7 L588.9,132.9 L590.9,134.3 L592.9,136.0 L594.9,137.8 L596.9,139.9 L598.9,142.1 L600.9,144.5 L602.9,147.1 L604.9,149.9 L606.9,152.8 L608.9,155.9 L610.9,159.1 L612.9,162.4 L614.9,165.9 L616.9,169.4 L618.9,173.0 L620.9,176.7 L622.9,180.5 L624.9,184.3 L626.9,188.2 L628.9,192.1 L630.9,196.0 L632.9,199.9 L634.9,203.9 L636.9,207.8 L638.9,211.7 L640.9,215.6 L642.9,219.4 L644.9,223.2 L646.9,226.9 L648.9,230.6 L650.9,234.2 L652.9,237.7 L654.9,241.1 L656.9,244.5 L658.9,247.8 L660.9,251.0 L662.9,254.1 L664.9,257.1 L666.9,260.0 L668.9,262.7 L670.9,265.4 L672.9,268.0 L674.9,270.5 L676.9,272.9 L678.9,275.1 L680.9,277.3 L682.9,279.4 L684.9,281.3 L686.9,283.2 L688.9,285.0 L690.9,286.7 L692.9,288.3 L694.9,289.8 L696.9,291.2 L698.9,292.5 L700.9,293.7 L702.9,294.9 L704.9,296.0 L706.9,297.0 L708.9,298.0 L710.9,298.9 L712.9,299.7 L714.9,300.5 L716.9,301.2 L718.9,301.9 L720.9,302.5 L722.9,303.0 L724.9,303.6 L726.9,304.0 L728.9,304.5 L730.9,304.9 L732.9,305.3 L734.9,305.6 L736.9,305.9 L738.9,306.2 L740.9,306.5 L742.9,306.7 L744.9,306.9 L746.9,307.1 L748.9,307.3 L750.9,307.5 L752.9,307.6 L754.9,307.7 L756.9,307.8 L758.9,307.9 L760.9,308.0 L762.9,308.1 L764.9,308.2 L766.9,308.3 L768.9,308.3 L770.9,308.4 L772.9,308.4 L774.9,308.5 L776.9,308.5 L778.9,308.6 L780.9,308.6 L782.9,308.6 L784.9,308.6 L786.9,308.7 L788.9,308.7 L790.9,308.7 L792.9,308.7 L794.9,308.7 L796.9,308.7 L798.9,308.7 L800.9,308.7 L802.9,308.8 L804.9,308.8 L806.9,308.8 L808.9,308.8 L810.9,308.8 L812.9,308.8 L814.9,308.8 L816.9,308.8 L818.9,308.8 L820.9,308.8 L822.9,308.8 L824.9,308.8 L826.9,308.8 L828.9,308.8 L830.9,308.8 L832.9,308.8 L834.9,308.8 L836.9,308.8 L838.9,308.8 L840.9,308.8 L842.9,308.8 L844.9,308.8 L846.9,308.8 L848.9,308.8 L850.9,308.8 L852.9,308.8 L854.9,308.8 L856.9,308.8 L858.9,308.8 L860.9,308.8 L862.9,308.8 L864.9,308.8 L866.9,308.8 L868.9,308.8 L870.9,308.8 L872.9,308.8 L874.9,308.8 L876.9,308.8 L878.9,308.8 L880.9,308.8 L882.9,308.8 L884.9,308.8 L886.9,308.8 L888.9,308.8 L890.9,308.8 L892.9,308.8 L894.9,308.8 L896.9,308.8 L898.9,308.8 L900.9,308.8 L902.9,308.8 L904.9,308.8 L906.9,308.8 L908.9,308.8 L910.9,308.8 L912.9,308.8 L914.9,308.8 L916.9,308.8 L918.9,308.8 L920.9,308.8 L922.9,308.8 L924.9,308.8 L926.9,308.8 L928.9,308.8 L930.9,308.8 L932.9,308.8 L934.9,308.8 L936.9,308.8 L938.9,308.8 L940.9,308.8 L942.9,308.8 L944.9,308.8 L946.9,308.8 L948.9,308.8 L950.9,308.8 L952.9,308.8 L954.9,308.8 L956.9,308.8 L958.9,308.8 L960.9,308.8 L962.9,308.8 L964.9,308.8 L966.9,308.8 L968.9,308.8 L970.9,308.8 L972.9,308.8 L974.9,308.8 L976.9,308.8 L978.9,308.8 L980.9,308.8 L982.9,308.8 L984.9,308.8 L986.9,308.8 L988.9,308.8 L990.9,308.8 L992.9,308.8 L994.9,308.8 L996.9,308.8 L998.9,308.8 L1000.9,308.8 L1002.9,308.8 L1004.9,308.8 L1006.9,308.8 L1008.9,308.8 L1010.9,308.8 L1012.9,308.8 L1014.9,308.8 L1016.9,308.8 L1018.9,308.8 L1020.9,308.8 L1022.9,308.8 L1024.9,308.8 L1026.9,308.8 L1028.9,308.8 L1030.9,308.8 L1032.9,308.8 L1034.9,308.8 L1036.9,308.8 L1038.9,308.8 L1040.9,308.8 L1042.9,308.8 L1044.9,308.8 L1046.9,308.8 L1048.9,308.8 L1050.9,308.8 L1052.9,308.8 L1054.9,308.8 L1056.9,308.8 L1058.9,308.8 L1060.9,308.8 L1062.9,308.8 L1064.9,308.8 L1066.9,308.8 L1068.9,308.8 L1070.9,308.8 L1072.9,308.8 L1074.9,308.8 L1076.9,308.8 L1078.9,308.8 L1080.9,308.8 L1082.9,308.8 L1084.9,308.8 L1086.9,308.8 L1088.9,308.8 L1090.9,308.8 L1092.9,308.8 L1094.9,308.8 L1096.9,308.8 L1098.9,308.8" fill="none" stroke="#000" stroke-width="1.5"/>
<path d="M126.9,308.8 L128.9,308.8 L130.9,308.8 L132.9,308.8 L134.9,308.8 L136.9,308.8 L138.9,308.8 L140.9,308.8 L142.9,308.8 L144.9,308.8 L146.9,308.8 L148.9,308.8 L150.9,308.8 L152.9,308.8 L154.9,308.8 L156.9,308.8 L158.9,308.8 L160.9,308.8 L162.9,308.8 L164.9,308.8 L166.9,308.8 L168.9,308.8 L170.9,308.8 L172.9,308.8 L174.9,308.8 L176.9,308.8 L178.9,308.8 L180.9,308.8 L182.9,308.8 L184.9,308.8 L186.9,308.8 L188.9,308.8 L190.9,308.8 L192.9,308.8 L194.9,308.8 L196.9,308.8 L198.9,308.8 L200.9,308.8 L202.9,308.8 L204.9,308.8 L206.9,308.8 L208.9,308.8 L210.9,308.8 L212.9,308.8 L214.9,308.8 L216.9,308.8 L218.9,308.8 L220.9,308.8 L222.9,308.8 L224.9,308.8 L226.9,308.8 L228.9,308.8 L230.9,308.8 L232.9,308.8 L234.9,308.8 L236.9,308.8 L238.9,308.8 L240.9,308.8 L242.9,308.8 L244.9,308.8 L246.9,308.8 L248.9,308.8 L250.9,308.8 L252.9,308.8 L254.9,308.8 L256.9,308.8 L258.9,308.8 L260.9,308.8 L262.9,308.8 L264.9,308.8 L266.9,308.8 L268.9,308.8 L270.9,308.8 L272.9,308.8 L274.9,308.8 L276.9,308.8 L278.9,308.8 L280.9,308.7 L282.9,308.7 L284.9,308.7 L286.9,308.7 L288.9,308.7 L290.9,308.7 L292.9,308.6 L294.9,308.6 L296.9,308.6 L298.9,308.5 L300.9,308.5 L302.9,308.4 L304.9,308.4 L306.9,308.3 L308.9,308.2 L310.9,308.1 L312.9,308.0 L314.9,307.9 L316.9,307.8 L318.9,307.7 L320.9,307.5 L322.9,307.3 L324.9,307.1 L326.9,306.9 L328.9,306.6 L330.9,306.4 L332.9,306.1 L334.9,305.8 L336.9,305.4 L338.9,305.0 L340.9,304.6 L342.9,304.2 L344.9,303.7 L346.9,303.2 L348.9,302.6 L350.9,302.0 L352.9,301.4 L354.9,300.8 L356.9,300.1 L358.9,299.4 L360.9,298.7 L362.9,297.9 L364.9,297.1 L366.9,296.3 L368.9,295.5 L370.9,294.6 L372.9,293.8 L374.9,292.9 L376.9,292.1 L378.9,291.2 L380.9,290.4 L382.9,289.5 L384.9,288.7 L386.9,287.9 L388.9,287.2 L390.9,286.4 L392.9,285.8 L394.9,285.1 L396.9,284.5 L398.9,284.0 L400.9,283.5 L402.9,283.1 L404.9,282.8 L406.9,282.5 L408.9,282.4 L410.9,282.2 L412.9,282.2 L414.9,282.2 L416.9,282.3 L418.9,282.5 L420.9,282.8 L422.9,283.1 L424.9,283.5 L426.9,284.0 L428.9,284.5 L430.9,285.1 L432.9,285.7 L434.9,286.4 L436.9,287.1 L438.9,287.8 L440.9,288.6 L442.9,289.4 L444.9,290.3 L446.9,291.1 L448.9,292.0 L450.9,292.8 L452.9,293.7 L454.9,294.6 L456.9,295.4 L458.9,296.2 L460.9,297.0 L462.9,297.8 L464.9,298.6 L466.9,299.3 L468.9,300.0 L470.9,300.7 L472.9,301.4 L474.9,302.0 L476.9,302.6 L478.9,303.1 L480.9,303.6 L482.9,304.1 L484.9,304.6 L486.9,305.0 L488.9,305.4 L490.9,305.7 L492.9,306.1 L494.9,306.4 L496.9,306.6 L498.9,306.9 L500.9,307.1 L502.9,307.3 L504.9,307.5 L506.9,307.6 L508.9,307.8 L510.9,307.9 L512.9,308.0 L514.9,308.1 L516.9,308.2 L518.9,308.3 L520.9,308.4 L522.9,308.4 L524.9,308.5 L526.9,308.5 L528.9,308.6 L530.9,308.6 L532.9,308.6 L534.9,308.7 L536.9,308.7 L538.9,308.7 L540.9,308.7 L542.9,308.7 L544.9,308.7 L546.9,308.8 L548.9,308.8 L550.9,308.8 L552.9,308.8 L554.9,308.8 L556.9,308.8 L558.9,308.8 L560.9,308.8 L562.9,308.8 L564.9,308.8 L566.9,308.8 L568.9,308.8 L570.9,308.8 L572.9,308.8 L574.9,308.8 L576.9,308.8 L578.9,308.8 L580.9,308.8 L582.9,308.8 L584.9,308.8 L586.9,308.8 L588.9,308.8 L590.9,308.8 L592.9,308.8 L594.9,308.8 L596.9,308.8 L598.9,308.8 L600.9,308.8 L602.9,308.8 L604.9,308.8 L606.9,308.8 L608.9,308.8 L610.9,308.8 L612.9,308.8 L614.9,308.8 L616.9,308.8 L618.9,308.8 L620.9,308.8 L622.9,308.8 L624.9,308.8 L626.9,308.8 L628.9,308.8 L630.9,308.8 L632.9,308.8 L634.9,308.8 L636.9,308.8 L638.9,308.8 L640.9,308.8 L642.9,308.8 L644.9,308.8 L646.9,308.8 L648.9,308.8 L650.9,308.8 L652.9,308.8 L654.9,308.8 L656.9,308.8 L658.9,308.8 L660.9,308.8 L662.9,308.8 L664.9,308.8 L666.9,308.8 L668.9,308.8 L670.9,308.8 L672.9,308.8 L674.9,308.8 L676.9,308.8 L678.9,308.8 L680.9,308.8 L682.9,308.8 L684.9,308.8 L686.9,308.8 L688.9,308.8 L690.9,308.8 L692.9,308.8 L694.9,308.8 L696.9,308.8 L698.9,308.8 L700.9,308.8 L702.9,308.8 L704.9,308.8 L706.9,308.8 L708.9,308.8 L710.9,308.8 L712.9,308.8 L714.9,308.8 L716.9,308.8 L718.9,308.8 L720.9,308.8 L722.9,308.8 L724.9,308.8 L726.9,308.8 L728.9,308.8 L730.9,308.8 L732.9,308.8 L734.9,308.8 L736.9,308.8 L738.9,308.8 L740.9,308.8 L742.9,308.8 L744.9,308.8 L746.9,308.8 L748.9,308.8 L750.9,308.8 L752.9,308.8 L754.9,308.8 L756.9,308.8 L758.9,308.8 L760.9,308.8 L762.9,308.8 L764.9,308.8 L766.9,308.8 L768.9,308.8 L770.9,308.8 L772.9,308.8 L774.9,308.8 L776.9,308.8 L778.9,308.8 L780.9,308.8 L782.9,308.8 L784.9,308.8 L786.9,308.8 L788.9,308.8 L790.9,308.8 L792.9,308.8 L794.9,308.8 L796.9,308.8 L798.9,308.8 L800.9,308.8 L802.9,308.8 L804.9,308.8 L806.9,308.8 L808.9,308.8 L810.9,308.8 L812.9,308.8 L814.9,308.8 L816.9,308.8 L818.9,308.8 L820.9,308.8 L822.9,308.8 L824.9,308.8 L826.9,308.8 L828.9,308.8 L830.9,308.8 L832.9,308.8 L834.9,308.8 L836.9,308.8 L838.9,308.8 L840.9,308.8 L842.9,308.8 L844.9,308.8 L846.9,308.8 L848.9,308.8 L850.9,308.8 L852.9,308.8 L854.9,308.8 L856.9,308.8 L858.9,308.8 L860.9,308.8 L862.9,308.8 L864.9,308.8 L866.9,308.8 L868.9,308.8 L870.9,308.8 L872.9,308.8 L874.9,308.8 L876.9,308.8 L878.9,308.8 L880.9,308.8 L882.9,308.8 L884.9,308.8 L886.9,308.8 L888.9,308.8 L890.9,308.8 L892.9,308.8 L894.9,308.8 L896.9,308.8 L898.9,308.8 L900.9,308.8 L902.9,308.8 L904.9,308.8 L906.9,308.8 L908.9,308.8 L910.9,308.8 L912.9,308.8 L914.9,308.8 L916.9,308.8 L918.9,308.8 L920.9,308.8 L922.9,308.8 L924.9,308.8 L926.9,308.8 L928.9,308.8 L930.9,308.8 L932.9,308.8 L934.9,308.8 L936.9,308.8 L938.9,308.8 L940.9,308.8 L942.9,308.8 L944.9,308.8 L946.9,308.8 L948.9,308.8 L950.9,308.8 L952.9,308.8 L954.9,308.8 L956.9,308.8 L958.9,308.8 L960.9,308.8 L962.9,308.8 L964.9,308.8 L966.9,308.8 L968.9,308.8 L970.9,308.8 L972.9,308.8 L974.9,308.8 L976.9,308.8 L978.9,308.8 L980.9,308.8 L982.9,308.8 L984.9,308.8 L986.9,308.8 L988.9,308.8 L990.9,308.8 L992.9,308.8 L994.9,308.8 L996.9,308.8 L998.9,308.8 L1000.9,308.8 L1002.9,308.8 L1004.9,308.8 L1006.9,308.8 L1008.9,308.8 L1010.9,308.8 L1012.9,308.8 L1014.9,308.8 L1016.9,308.8 L1018.9,308.8 L1020.9,308.8 L1022.9,308.8 L1024.9,308.8 L1026.9,308.8 L1028.9,308.8 L1030.9,308.8 L1032.9,308.8 L1034.9,308.8 L1036.9,308.8 L1038.9,308.8 L1040.9,308.8 L1042.9,308.8 L1044.9,308.8 L1046.9,308.8 L1048.9,308.8 L1050.9,308.8 L1052.9,308.8 L1054.9,308.8 L1056.9,308.8 L1058.9,308.8 L1060.9,308.8 L1062.9,308.8 L1064.9,308.8 L1066.9,308.8 L1068.9,308.8 L1070.9,308.8 L1072.9,308.8 L1074.9,308.8 L1076.9,308.8 L1078.9,308.8 L1080.9,308.8 L1082.9,308.8 L1084.9,308.8 L1086.9,308.8 L1088.9,308.8 L1090.9,308.8 L1092.9,308.8 L1094.9,308.8 L1096.9,308.8 L1098.9,308.8" fill="none" stroke="#000" stroke-width="1.5"/>
<path d="M126.9,308.8 L128.9,308.8 L130.9,308.8 L132.9,308.8 L134.9,308.8 L136.9,308.8 L138.9,308.8 L140.9,308.8 L142.9,308.8 L144.9,308.8 L146.9,308.8 L148.9,308.8 L150.9,308.8 L152.9,308.8 L154.9,308.8 L156.9,308.8 L158.9,308.8 L160.9,308.8 L162.9,308.8 L164.9,308.8 L166.9,308.8 L168.9,308.8 L170.9,308.8 L172.9,308.8 L174.9,308.8 L176.9,308.8 L178.9,308.8 L180.9,308.8 L182.9,308.8 L184.9,308.8 L186.9,308.8 L188.9,308.8 L190.9,308.8 L192.9,308.8 L194.9,308.8 L196.9,308.8 L198.9,308.8 L200.9,308.8 L202.9,308.8 L204.9,308.8 L206.9,308.8 L208.9,308.8 L210.9,308.8 L212.9,308.8 L214.9,308.8 L216.9,308.8 L218.9,308.8 L220.9,308.8 L222.9,308.8 L224.9,308.8 L226.9,308.8 L228.9,308.8 L230.9,308.8 L232.9,308.8 L234.9,308.8 L236.9,308.8 L238.9,308.8 L240.9,308.8 L242.9,308.8 L244.9,308.8 L246.9,308.8 L248.9,308.8 L250.9,308.8 L252.9,308.8 L254.9,308.8 L256.9,308.8 L258.9,308.8 L260.9,308.8 L262.9,308.8 L264.9,308.8 L266.9,308.8 L268.9,308.8 L270.9,308.8 L272.9,308.8 L274.9,308.8 L276.9,308.8 L278.9,308.8 L280.9,308.7 L282.9,308.7 L284.9,308.7 L286.9,308.7 L288.9,308.7 L290.9,308.7 L292.9,308.6 L294.9,308.6 L296.9,308.6 L298.9,308.5 L300.9,308.5 L302.9,308.4 L304.9,308.4 L306.9,308.3 L308.9,308.2 L310.9,308.1 L312.9,308.0 L314.9,307.9 L316.9,307.8 L318.9,307.7 L320.9,307.5 L322.9,307.3 L324.9,307.1 L326.9,306.9 L328.9,306.6 L330.9,306.4 L332.9,306.1 L334.9,305.7 L336.9,305.4 L338.9,305.0 L340.9,304.6 L342.9,304.1 L344.9,303.7 L346.9,303.1 L348.9,302.6 L350.9,302.0 L352.9,301.4 L354.9,300.7 L356.9,300.0 L358.9,299.3 L360.9,298.6 L362.9,297.8 L364.9,297.0 L366.9,296.2 L368.9,295.3 L370.9,294.5 L372.9,293.6 L374.9,292.7 L376.9,291.8 L378.9,290.9 L380.9,290.0 L382.9,289.1 L384.9,288.3 L386.9,287.4 L388.9,286.6 L390.9,285.8 L392.9,285.0 L394.9,284.3 L396.9,283.6 L398.9,283.0 L400.9,282.4 L402.9,281.9 L404.9,281.4 L406.9,280.9 L408.9,280.6 L410.9,280.2 L412.9,280.0 L414.9,279.7 L416.9,279.6 L418.9,279.5 L420.9,279.4 L422.9,279.4 L424.9,279.4 L426.9,279.4 L428.9,279.4 L430.9,279.5 L432.9,279.6 L434.9,279.7 L436.9,279.8 L438.9,279.8 L440.9,279.9 L442.9,279.9 L444.9,279.8 L446.9,279.7 L448.9,279.6 L450.9,279.4 L452.9,279.1 L454.9,278.8 L456.9,278.3 L458.9,277.8 L460.9,277.1 L462.9,276.3 L464.9,275.5 L466.9,274.5 L468.9,273.3 L470.9,272.1 L472.9,270.7 L474.9,269.2 L476.9,267.6 L478.9,265.8 L480.9,263.9 L482.9,261.8 L484.9,259.6 L486.9,257.3 L488.9,254.8 L490.9,252.2 L492.9,249.5 L494.9,246.6 L496.9,243.7 L498.9,240.6 L500.9,237.4 L502.9,234.1 L504.9,230.7 L506.9,227.2 L508.9,223.7 L510.9,220.0 L512.9,216.3 L514.9,212.6 L516.9,208.8 L518.9,204.9 L520.9,201.1 L522.9,197.2 L524.9,193.4 L526.9,189.5 L528.9,185.6 L530.9,181.8 L532.9,178.1 L534.9,174.4 L536.9,170.7 L538.9,167.2 L540.9,163.7 L542.9,160.4 L544.9,157.1 L546.9,154.0 L548.9,151.0 L550.9,148.2 L552.9,145.5 L554.9,143.0 L556.9,140.7 L558.9,138.6 L560.9,136.7 L562.9,134.9 L564.9,133.4 L566.9,132.1 L568.9,131.0 L570.9,130.2 L572.9,129.6 L574.9,129.2 L576.9,129.0 L578.9,129.1 L580.9,129.4 L582.9,129.9 L584.9,130.7 L586.9,131.7 L588.9,132.9 L590.9,134.3 L592.9,136.0 L594.9,137.8 L596.9,139.9 L598.9,142.1 L600.9,144.5 L602.9,147.1 L604.9,149.9 L606.9,152.8 L608.9,155.9 L610.9,159.1 L612.9,162.4 L614.9,165.9 L616.9,169.4 L618.9,173.0 L620.9,176.7 L622.9,180.5 L624.9,184.3 L626.9,188.2 L628.9,192.1 L630.9,196.0 L632.9,199.9 L634.9,203.9 L636.9,207.8 L638.9,211.7 L640.9,215.6 L642.9,219.4 L644.9,223.2 L646.9,226.9 L648.9,230.6 L650.9,234.2 L652.9,237.7 L654.9,241.1 L656.9,244.5 L658.9,247.8 L660.9,251.0 L662.9,254.1 L664.9,257.1 L666.9,260.0 L668.9,262.7 L670.9,265.4 L672.9,268.0 L674.9,270.5 L676.9,272.9 L678.9,275.1 L680.9,277.3 L682.9,279.4 L684.9,281.3 L686.9,283.2 L688.9,285.0 L690.9,286.7 L692.9,288.3 L694.9,289.8 L696.9,291.2 L698.9,292.5 L700.9,293.7 L702.9,294.9 L704.9,296.0 L706.9,297.0 L708.9,298.0 L710.9,298.9 L712.9,299.7 L714.9,300.5 L716.9,301.2 L718.9,301.9 L720.9,302.5 L722.9,303.0 L724.9,303.6 L726.9,304.0 L728.9,304.5 L730.9,304.9 L732.9,305.3 L734.9,305.6 L736.9,305.9 L738.9,306.2 L740.9,306.5 L742.9,306.7 L744.9,306.9 L746.9,307.1 L748.9,307.3 L750.9,307.5 L752.9,307.6 L754.9,307.7 L756.9,307.8 L758.9,307.9 L760.9,308.0 L762.9,308.1 L764.9,308.2 L766.9,308.3 L768.9,308.3 L770.9,308.4 L772.9,308.4 L774.9,308.5 L776.9,308.5 L778.9,308.6 L780.9,308.6 L782.9,308.6 L784.9,308.6 L786.9,308.7 L788.9,308.7 L790.9,308.7 L792.9,308.7 L794.9,308.7 L796.9,308.7 L798.9,308.7 L800.9,308.7 L802.9,308.8 L804.9,308.8 L806.9,308.8 L808.9,308.8 L810.9,308.8 L812.9,308.8 L814.9,308.8 L816.9,308.8 L818.9,308.8 L820.9,308.8 L822.9,308.8 L824.9,308.8 L826.9,308.8 L828.9,308.8 L830.9,308.8 L832.9,308.8 L834.9,308.8 L836.9,308.8 L838.9,308.8 L840.9,308.8 L842.9,308.8 L844.9,308.8 L846.9,308.8 L848.9,308.8 L850.9,308.8 L852.9,308.8 L854.9,308.8 L856.9,308.8 L858.9,308.8 L860.9,308.8 L862.9,308.8 L864.9,308.8 L866.9,308.8 L868.9,308.8 L870.9,308.8 L872.9,308.8 L874.9,308.8 L876.9,308.8 L878.9,308.8 L880.9,308.8 L882.9,308.8 L884.9,308.8 L886.9,308.8 L888.9,308.8 L890.9,308.8 L892.9,308.8 L894.9,308.8 L896.9,308.8 L898.9,308.8 L900.9,308.8 L902.9,308.8 L904.9,308.8 L906.9,308.8 L908.9,308.8 L910.9,308.8 L912.9,308.8 L914.9,308.8 L916.9,308.8 L918.9,308.8 L920.9,308.8 L922.9,308.8 L924.9,308.8 L926.9,308.8 L928.9,308.8 L930.9,308.8 L932.9,308.8 L934.9,308.8 L936.9,308.8 L938.9,308.8 L940.9,308.8 L942.9,308.8 L944.9,308.8 L946.9,308.8 L948.9,308.8 L950.9,308.8 L952.9,308.8 L954.9,308.8 L956.9,308.8 L958.9,308.8 L960.9,308.8 L962.9,308.8 L964.9,308.8 L966.9,308.8 L968.9,308.8 L970.9,308.8 L972.9,308.8 L974.9,308.8 L976.9,308.8 L978.9,308.8 L980.9,308.8 L982.9,308.8 L984.9,308.8 L986.9,308.8 L988.9,308.8 L990.9,308.8 L992.9,308.8 L994.9,308.8 L996.9,308.8 L998.9,308.8 L1000.9,308.8 L1002.9,308.8 L1004.9,308.8 L1006.9,308.8 L1008.9,308.8 L1010.9,308.8 L1012.9,308.8 L1014.9,308.8 L1016.9,308.8 L1018.9,308.8 L1020.9,308.8 L1022.9,308.8 L1024.9,308.8 L1026.9,308.8 L1028.9,308.8 L1030.9,308.8 L1032.9,308.8 L1034.9,308.8 L1036.9,308.8 L1038.9,308.8 L1040.9,308.8 L1042.9,308.8 L1044.9,308.8 L1046.9,308.8 L1048.9,308.8 L1050.9,308.8 L1052.9,308.8 L1054.9,308.8 L1056.9,308.8 L1058.9,308.8 L1060.9,308.8 L1062.9,308.8 L1064.9,308.8 L1066.9,308.8 L1068.9,308.8 L1070.9,308.8 L1072.9,308.8 L1074.9,308.8 L1076.9,308.8 L1078.9,308.8 L1080.9,308.8 L1082.9,308.8 L1084.9,308.8 L1086.9,308.8 L1088.9,308.8 L1090.9,308.8 L1092.9,308.8 L1094.9,308.8 L1096.9,308.8 L1098.9,308.8" fill="none" stroke="#000" stroke-width="4" stroke-linejoin="round"/>
<path d="M126.9,549.4 H152.2 V561.1 H203.1 V543.6 H254.3 V552.3 H305.5 V549.1 H356.6 V547.8 H407.8 V546.1 H459.0 V540.6 H510.4 V555.6 H561.8 V542.3 H612.8 V549.1 H663.9 V550.3 H715.0 V543.6 H766.1 V544.6 H817.2 V534.8 H868.4 V531.1 H919.6 V548.1 H970.8 V554.8 H1021.9 V550.6 H1073.0 V549.8 H1098.9" fill="none" stroke="#000" stroke-width="4" stroke-linejoin="miter"/>
<path d="M126.9,294.2 V331.6 M122.0,294.2 h9.8 M122.0,331.6 h9.8 M177.6,306.5 V343.9 M172.7,306.5 h9.8 M172.7,343.9 h9.8 M228.7,289.2 V326.6 M223.8,289.2 h9.8 M223.8,326.6 h9.8 M280.0,297.2 V334.6 M275.1,297.2 h9.8 M275.1,334.6 h9.8 M331.0,290.7 V328.1 M326.1,290.7 h9.8 M326.1,328.1 h9.8 M382.3,274.4 V311.8 M377.4,274.4 h9.8 M377.4,311.8 h9.8 M433.3,263.2 V300.6 M428.4,263.2 h9.8 M428.4,300.6 h9.8 M484.6,235.1 V272.5 M479.7,235.1 h9.8 M479.7,272.5 h9.8 M536.2,163.3 V200.7 M531.3,163.3 h9.8 M531.3,200.7 h9.8 M587.3,110.3 V147.7 M582.4,110.3 h9.8 M582.4,147.7 h9.8 M638.4,198.1 V235.5 M633.5,198.1 h9.8 M633.5,235.5 h9.8 M689.4,272.8 V310.2 M684.5,272.8 h9.8 M684.5,310.2 h9.8 M740.5,287.5 V324.9 M735.6,287.5 h9.8 M735.6,324.9 h9.8 M791.7,289.9 V327.3 M786.8,289.9 h9.8 M786.8,327.3 h9.8 M842.8,279.9 V317.3 M837.9,279.9 h9.8 M837.9,317.3 h9.8 M894.0,276.5 V313.9 M889.1,276.5 h9.8 M889.1,313.9 h9.8 M945.2,293.9 V331.3 M940.3,293.9 h9.8 M940.3,331.3 h9.8 M996.3,299.9 V337.3 M991.4,299.9 h9.8 M991.4,337.3 h9.8 M1047.4,295.9 V333.3 M1042.5,295.9 h9.8 M1042.5,333.3 h9.8 M1098.5,295.9 V333.3 M1093.6,295.9 h9.8 M1093.6,333.3 h9.8" fill="none" stroke="#000" stroke-width="3.5"/>
<g clip-path="url(#clip)">
<circle cx="126.9" cy="312.9" r="7.7"/>
<circle cx="177.6" cy="325.2" r="7.7"/>
<circle cx="228.7" cy="307.9" r="7.7"/>
<circle cx="280.0" cy="315.9" r="7.7"/>
<circle cx="331.0" cy="309.4" r="7.7"/>
<circle cx="382.3" cy="293.1" r="7.7"/>
<circle cx="433.3" cy="281.9" r="7.7"/>
<circle cx="484.6" cy="253.8" r="7.7"/>
<circle cx="536.2" cy="182.0" r="7.7"/>
<circle cx="587.3" cy="129.0" r="7.7"/>
<circle cx="638.4" cy="216.8" r="7.7"/>
<circle cx="689.4" cy="291.5" r="7.7"/>
<circle cx="740.5" cy="306.2" r="7.7"/>
<circle cx="791.7" cy="308.6" r="7.7"/>
<circle cx="842.8" cy="298.6" r="7.7"/>
<circle cx="894.0" cy="295.2" r="7.7"/>
<circle cx="945.2" cy="312.6" r="7.7"/>
<circle cx="996.3" cy="318.6" r="7.7"/>
<circle cx="1047.4" cy="314.6" r="7.7"/>
<circle cx="1098.5" cy="314.6" r="7.7"/>
</g>
<rect x="126.90" y="12.00" width="972.00" height="602.10" fill="none" stroke="#000" stroke-width="4"/>
<text><tspan x="287.00" y="80.90" font-size="40.80" textLength="25.35" lengthAdjust="spacingAndGlyphs">B</tspan><tspan x="313.40" y="80.90" font-size="36.00" textLength="18.14" lengthAdjust="spacingAndGlyphs" stroke="#fff" stroke-width="0.2">r</tspan></text>
<text><tspan x="548.80" y="702.40" font-size="32.46" textLength="17.98" lengthAdjust="spacingAndGlyphs">λ</tspan> <tspan x="586.30" y="705.10" font-size="42.00" textLength="12.64" lengthAdjust="spacingAndGlyphs">[</tspan><tspan x="601.50" y="702.70" font-size="34.48" textLength="22.25" lengthAdjust="spacingAndGlyphs" font-style="italic">μ</tspan><tspan x="627.80" y="702.20" font-size="34.37" textLength="32.15" lengthAdjust="spacingAndGlyphs">m</tspan><tspan x="662.50" y="705.10" font-size="42.00" textLength="12.64" lengthAdjust="spacingAndGlyphs">]</tspan></text>
<text transform="translate(63.50,93.90) scale(1.0800,1.0000)" font-size="36" letter-spacing="1.80">2.0</text>
<text transform="translate(64.50,209.90) scale(1.0800,1.0000)" font-size="36" letter-spacing="1.34">1.5</text>
<text transform="translate(64.50,324.90) scale(1.0800,1.0000)" font-size="36" letter-spacing="1.34">1.0</text>
<text transform="translate(63.50,440.70) scale(1.0800,1.0000)" font-size="36" letter-spacing="1.80">0.5</text>
<text transform="translate(63.50,556.90) scale(1.0800,1.0000)" font-size="36" letter-spacing="1.80">0.0</text>
<text transform="translate(286.00,521.20) scale(1.0700,0.8864)" font-size="36" letter-spacing="1.66">Residuals</text>
<text transform="translate(33.40,464.05) rotate(-90) scale(1.0000,0.9550)" font-size="36" letter-spacing="3.90">Normalized <tspan x="225.15" letter-spacing="3.67">Flux</tspan></text>
<text transform="translate(238.30,661.70) scale(1.0800,1.0041)" font-size="36" letter-spacing="1.65">1.930</text>
<text transform="translate(443.45,661.70) scale(1.0800,1.0041)" font-size="36" letter-spacing="1.42">1.940</text>
<text transform="translate(647.60,661.70) scale(1.0800,1.0041)" font-size="36" letter-spacing="1.65">1.950</text>
<text transform="translate(852.25,661.70) scale(1.0800,1.0041)" font-size="36" letter-spacing="1.65">1.960</text>
<text transform="translate(330.75,82.15) scale(1.0956,1.1406) skewX(-12)" font-size="36" stroke="#fff" stroke-width="0.3">δ</text>
</g>
</svg></body></html>
